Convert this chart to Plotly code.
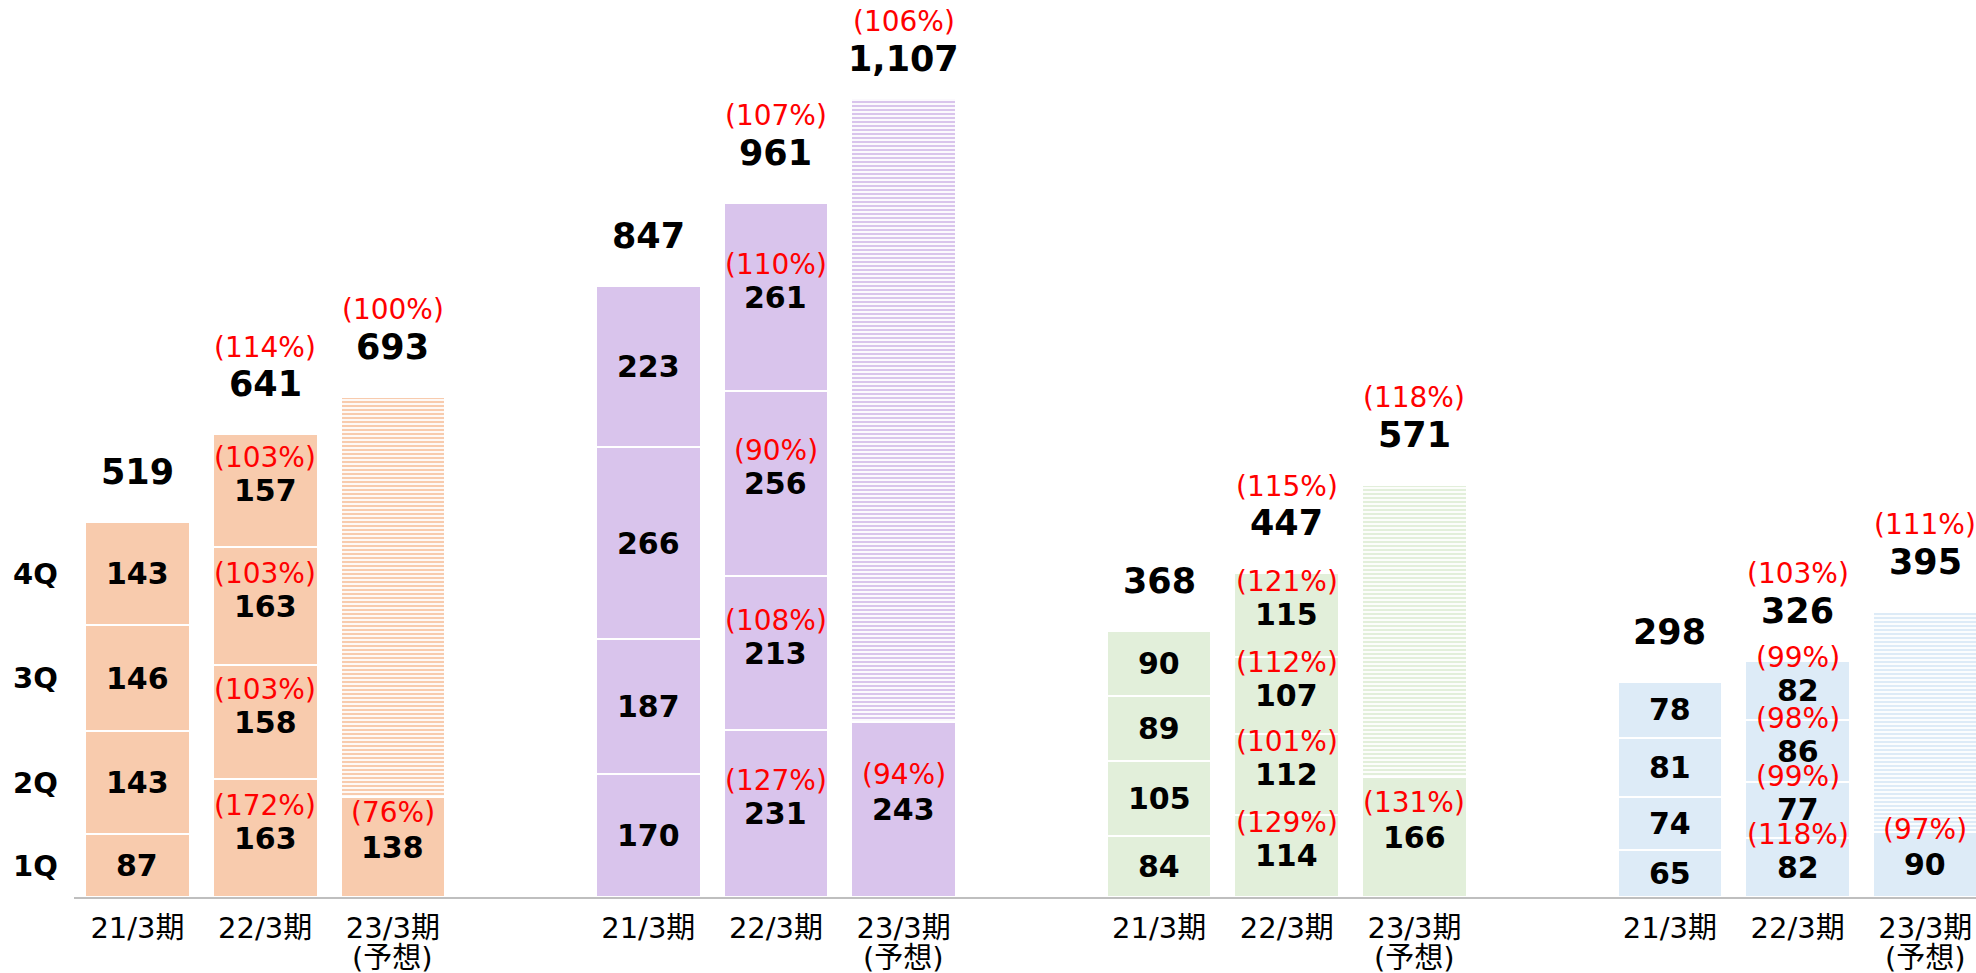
import plotly.graph_objects as go

# ---------------- data ----------------
period_labels = ["21/3期", "22/3期", "23/3期"]
period_sublabels = ["", "", "(予想)"]
quarter_labels = ["1Q", "2Q", "3Q", "4Q"]

colors = ["#F8CBAD", "#D9C4EC", "#E2EFDA", "#DDEBF7"]

# quarterly values (1Q..4Q) per group
fy21_q = [
    [87, 143, 146, 143],
    [170, 187, 266, 223],
    [84, 105, 89, 90],
    [65, 74, 81, 78],
]
fy22_q = [
    [163, 158, 163, 157],
    [231, 213, 256, 261],
    [114, 112, 107, 115],
    [82, 77, 86, 82],
]
fy22_q_pct = [
    ["(172%)", "(103%)", "(103%)", "(103%)"],
    ["(127%)", "(108%)", "(90%)", "(110%)"],
    ["(129%)", "(101%)", "(112%)", "(121%)"],
    ["(118%)", "(99%)", "(98%)", "(99%)"],
]
fy23_1q = [138, 243, 166, 90]
fy23_1q_pct = ["(76%)", "(94%)", "(131%)", "(97%)"]

fy21_total = ["519", "847", "368", "298"]
fy22_total = ["641", "961", "447", "326"]
fy22_total_pct = ["(114%)", "(107%)", "(115%)", "(103%)"]
fy23_total_val = [693, 1107, 571, 395]
fy23_total = ["693", "1,107", "571", "395"]
fy23_total_pct = ["(100%)", "(106%)", "(118%)", "(111%)"]

# ---------------- layout constants ----------------
W, H = 1976, 973
ML, MR, MT, MB = 74, 0, 0, 76
PLOT_H = H - MT - MB
YMAX = 1242
XMIN, XMAX = -0.497, 14.397
FONT = "DejaVu Sans, Noto Sans CJK JP, sans-serif"
BAR_W = 0.82
VAL_SIZE = 30
PCT_SIZE = 28
TOT_SIZE = 35
TICK_SIZE = 29

def pos(g, b):
    return g * 4 + b

def top_px(v):
    return PLOT_H * (1 - v / YMAX)

fig = go.Figure()
annotations = []

def total_labels(x, top, label, pct):
    tp = top_px(top)
    shift = min(50, tp - 59)
    annotations.append(dict(x=x, y=top, yshift=shift, text="<b>%s</b>" % label,
                            showarrow=False, font=dict(size=TOT_SIZE, color="black", family=FONT)))
    if pct:
        annotations.append(dict(x=x, y=top, yshift=shift + 37, text=pct,
                                showarrow=False, font=dict(size=PCT_SIZE, color="#FF0000", family=FONT)))

for g in range(4):
    c = colors[g]
    x21, x22, x23 = pos(g, 0), pos(g, 1), pos(g, 2)
    for q in range(4):
        xs = [x21, x22]
        ys = [fy21_q[g][q], fy22_q[g][q]]
        if q == 0:
            xs.append(x23)
            ys.append(fy23_1q[g])
        fig.add_trace(go.Bar(
            x=xs, y=ys, width=BAR_W,
            marker=dict(color=c, line=dict(color="white", width=2)),
            showlegend=False, hoverinfo="skip",
        ))
    # forecast remainder (hatched)
    fig.add_trace(go.Bar(
        x=[x23], y=[fy23_total_val[g] - fy23_1q[g]], width=BAR_W,
        marker=dict(color="white", line=dict(color="white", width=2),
                    pattern=dict(shape="-", fgcolor=c, bgcolor="white",
                                 size=4, solidity=0.55, fillmode="replace")),
        showlegend=False, hoverinfo="skip",
    ))

    # segment labels
    cum21 = 0
    cum22 = 0
    for q in range(4):
        v21 = fy21_q[g][q]
        annotations.append(dict(x=x21, y=cum21 + v21 / 2, text="<b>%d</b>" % v21,
                                showarrow=False, font=dict(size=VAL_SIZE, color="black", family=FONT)))
        if g == 0:
            annotations.append(dict(x=(35 - ML) / (W - ML - MR), xref="paper", xanchor="center",
                                    y=cum21 + v21 / 2, text="<b>%s</b>" % quarter_labels[q],
                                    showarrow=False, font=dict(size=29, color="black", family=FONT)))
        cum21 += v21
        v22 = fy22_q[g][q]
        annotations.append(dict(x=x22, y=cum22 + v22 / 2, text="<b>%d</b>" % v22,
                                showarrow=False, font=dict(size=VAL_SIZE, color="black", family=FONT)))
        annotations.append(dict(x=x22, y=cum22 + v22 / 2, yshift=33, text=fy22_q_pct[g][q],
                                showarrow=False, font=dict(size=PCT_SIZE, color="#FF0000", family=FONT)))
        cum22 += v22
    v = fy23_1q[g]
    annotations.append(dict(x=x23, y=v / 2, text="<b>%d</b>" % v,
                            showarrow=False, font=dict(size=VAL_SIZE, color="black", family=FONT)))
    annotations.append(dict(x=x23, y=v / 2, yshift=35, text=fy23_1q_pct[g],
                            showarrow=False, font=dict(size=PCT_SIZE, color="#FF0000", family=FONT)))

    total_labels(x21, cum21, fy21_total[g], None)
    total_labels(x22, cum22, fy22_total[g], fy22_total_pct[g])
    total_labels(x23, fy23_total_val[g], fy23_total[g], fy23_total_pct[g])

    # second line of period label
    for b in range(3):
        if period_sublabels[b]:
            annotations.append(dict(x=pos(g, b), y=0, yref="paper", yanchor="middle",
                                    yshift=-61, text=period_sublabels[b], showarrow=False,
                                    font=dict(size=TICK_SIZE, color="black", family=FONT)))

tickvals = [pos(g, b) for g in range(4) for b in range(3)]
ticktext = [period_labels[b] for g in range(4) for b in range(3)]

fig.update_layout(
    width=W, height=H,
    margin=dict(l=ML, r=MR, t=MT, b=MB, pad=0, autoexpand=False),
    barmode="stack", bargap=0,
    plot_bgcolor="white", paper_bgcolor="white",
    annotations=annotations,
    font=dict(family=FONT),
    xaxis=dict(range=[XMIN, XMAX], tickvals=tickvals, ticktext=ticktext,
               showgrid=False, zeroline=False, showline=True, automargin=False,
               linecolor="#BFBFBF", linewidth=2, ticks="", ticklabelstandoff=4,
               tickfont=dict(size=TICK_SIZE, color="black", family=FONT)),
    yaxis=dict(range=[0, YMAX], visible=False, showgrid=False, zeroline=False,
               automargin=False),
)

fig.write_html("out.html", config={"displayModeBar": False},
               post_script="document.body.style.margin='0';document.body.style.padding='0';")
